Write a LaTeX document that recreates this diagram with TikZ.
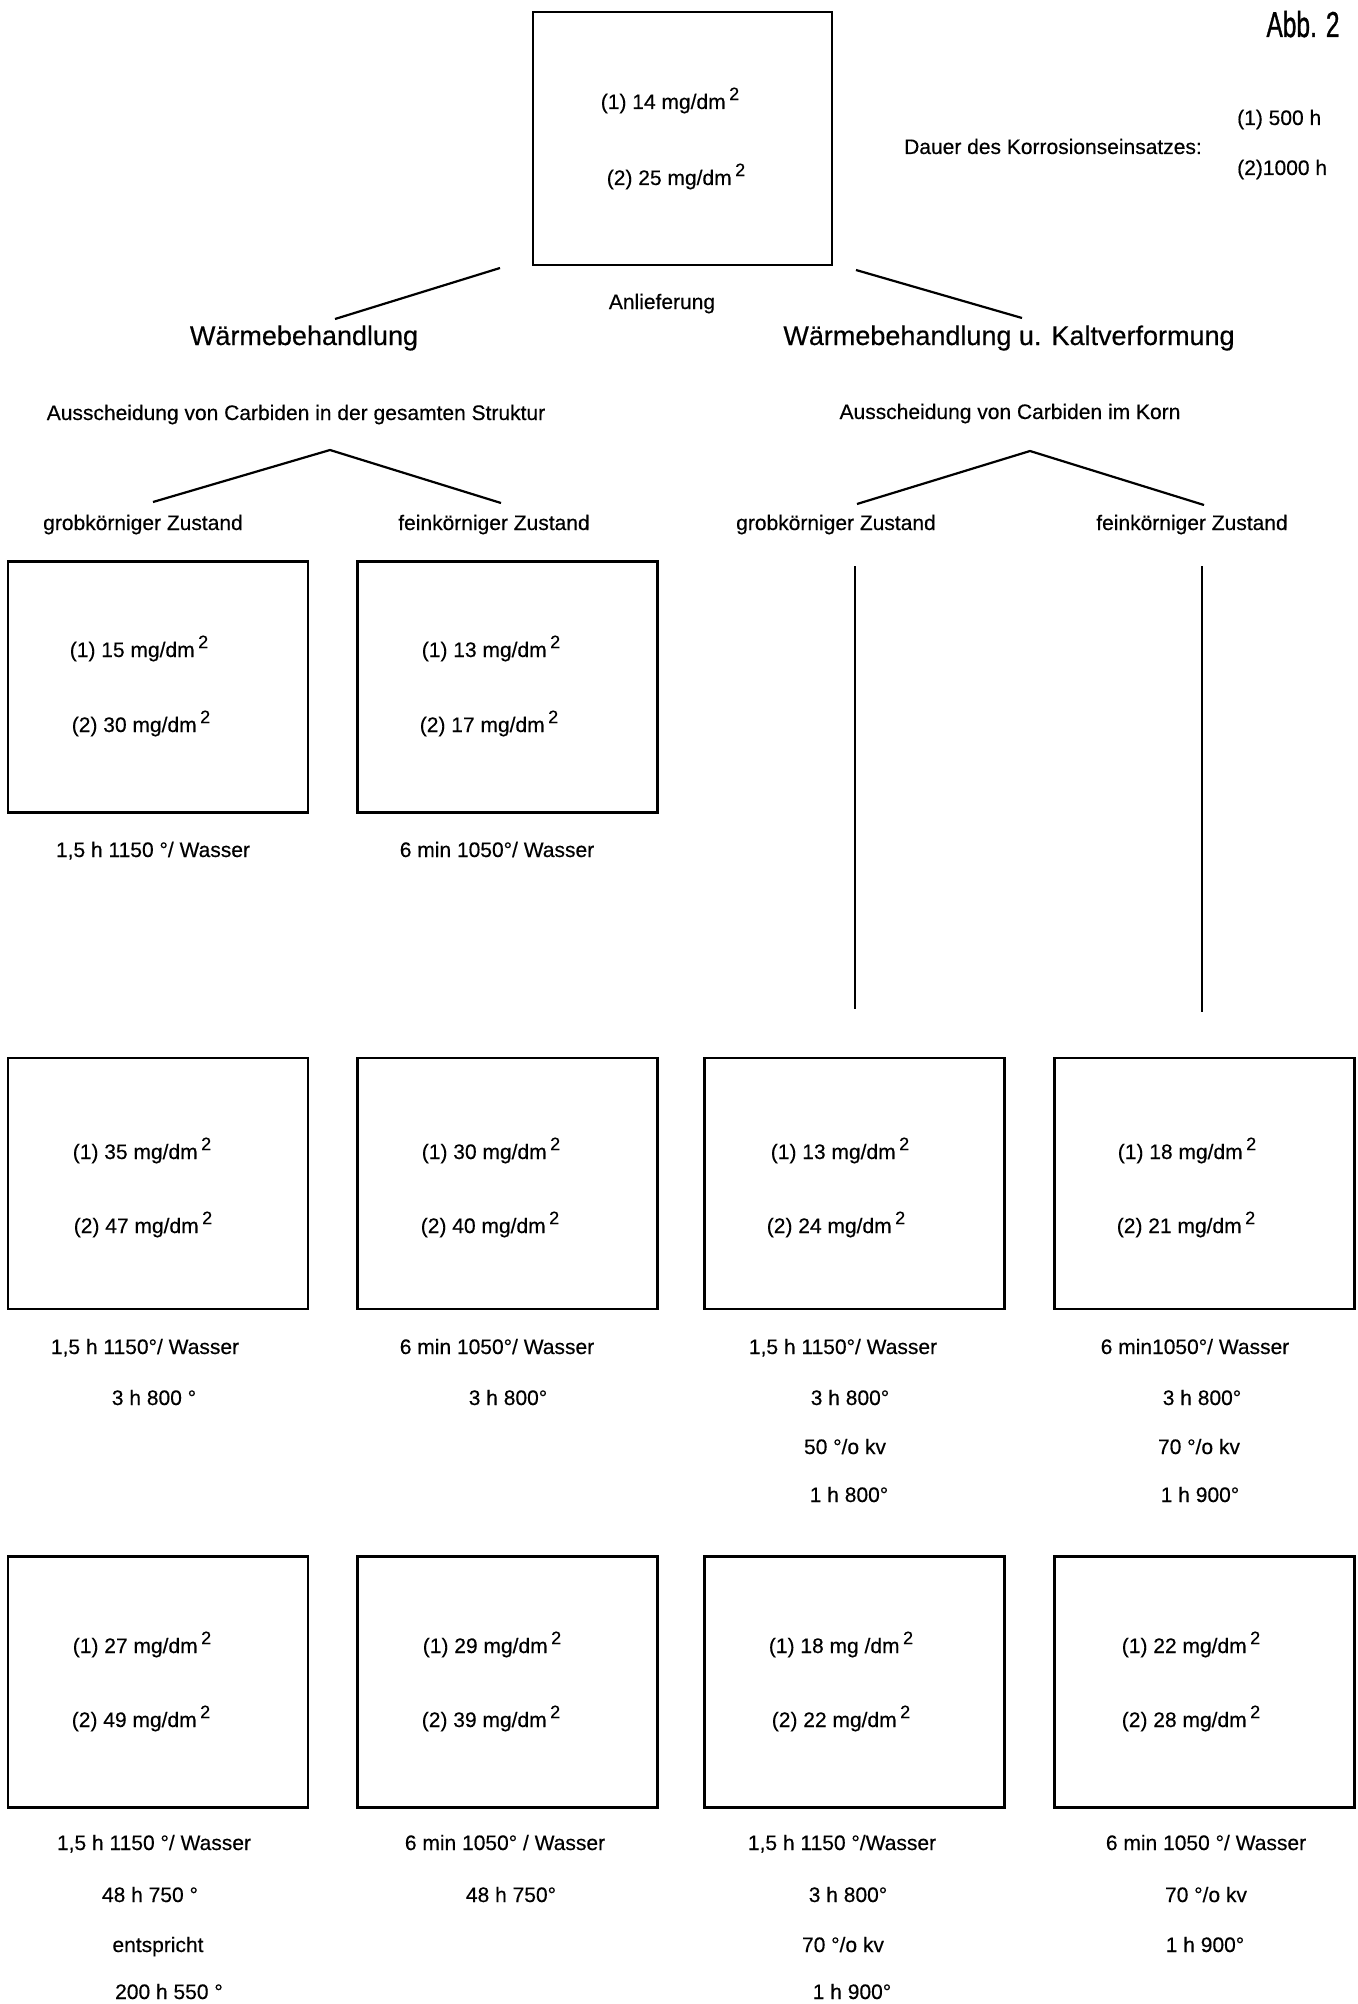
\documentclass[tikz,border=0pt]{standalone}
\usepackage{fontspec}
\setmainfont{Liberation Sans}[FakeBold=0.4]
\newfontfamily\ttlfont{Liberation Sans}[FakeBold=1.2]
\begin{document}
\begin{tikzpicture}[x=1pt,y=-1pt,
  box/.style={draw, line width=2.2pt, minimum width=300pt, minimum height=251pt, inner sep=0pt},
  txt/.style={anchor=base, inner sep=0pt, font=\fontsize{21}{25}\selectfont},
  big/.style={anchor=base, inner sep=0pt, font=\fontsize{27}{32}\selectfont},
  ttl/.style={anchor=base, inner sep=0pt, font=\ttlfont\fontsize{36}{40}\selectfont},
  ln/.style={line width=2.2pt}]
\useasboundingbox (0,0) rectangle (1357,2004);
\newcommand{\sqr}{\,\raisebox{0.8ex}{\fontsize{18}{18}\selectfont 2}}
\newcommand{\mgd}{mg/dm\sqr}
\newcommand{\pct}{°/o}

% title and legend
\node[ttl] (abb) at (1303,37) {\scalebox{0.68}[1]{Abb. 2}};
\node[txt] (dauer) at (1053,154) {Dauer des Korrosionseinsatzes:};
\node[txt, anchor=base west] (d1) at (1237,125) {(1) 500 h};
\node[txt, anchor=base west] (d2) at (1237,175) {(2)1000 h};

% top box
\node[box, minimum width=299pt, minimum height=253pt] (b0) at (682.5,138.5) {};
\node[txt] (b0t1) at (670,109) {(1) 14 \mgd};
\node[txt] (b0t2) at (676,185) {(2) 25 \mgd};
\node[txt] (anl) at (662,309) {Anlieferung};

% headings
\node[big] (wb) at (304,345) {Wärmebehandlung};
\node[big] (wk) at (1009,345) {Wärmebehandlung u. Kaltverformung};
\coordinate (la) at (500,268);
\coordinate (lb) at (335,319);
\coordinate (ra) at (856,270);
\coordinate (rb) at (1022,318);
\draw[ln] (la) -- (lb);
\draw[ln] (ra) -- (rb);

\node[txt] (ausl) at (296,420) {Ausscheidung von Carbiden in der gesamten Struktur};
\node[txt] (ausr) at (1010,419) {Ausscheidung von Carbiden im Korn};

\coordinate (vla) at (330,450);
\coordinate (vll) at (153,502);
\coordinate (vlr) at (501,503);
\coordinate (vra) at (1030,451);
\coordinate (vrl) at (857,504);
\coordinate (vrr) at (1204,505);
\draw[ln] (vll) -- (vla) -- (vlr);
\draw[ln] (vrl) -- (vra) -- (vrr);

\node[txt] (z1) at (143,530) {grobkörniger Zustand};
\node[txt] (z2) at (494,530) {feinkörniger Zustand};
\node[txt] (z3) at (836,530) {grobkörniger Zustand};
\node[txt] (z4) at (1192,530) {feinkörniger Zustand};

% vertical lines
\coordinate (v3a) at (855,566);
\coordinate (v3b) at (855,1009);
\coordinate (v4a) at (1202,566);
\coordinate (v4b) at (1202,1012);
\draw[ln] (v3a) -- (v3b);
\draw[ln] (v4a) -- (v4b);

% row 1
\node[box] (b11) at (158,687) {};
\node[box] (b12) at (507.5,687) {};
\node[txt] (b11t1) at (139,657) {(1) 15 \mgd};
\node[txt] (b11t2) at (141,732) {(2) 30 \mgd};
\node[txt] (b12t1) at (491,657) {(1) 13 \mgd};
\node[txt] (b12t2) at (489,732) {(2) 17 \mgd};
\node[txt] (r1l1) at (153,857) {1,5 h 1150 °/ Wasser};
\node[txt] (r1l2) at (497,857) {6 min 1050°/ Wasser};

% row 2
\node[box] (b21) at (158,1183.5) {};
\node[box] (b22) at (507.5,1183.5) {};
\node[box] (b23) at (854.5,1183.5) {};
\node[box] (b24) at (1204.5,1183.5) {};
\node[txt] (b21t1) at (142,1159) {(1) 35 \mgd};
\node[txt] (b21t2) at (143,1233) {(2) 47 \mgd};
\node[txt] (b22t1) at (491,1159) {(1) 30 \mgd};
\node[txt] (b22t2) at (490,1233) {(2) 40 \mgd};
\node[txt] (b23t1) at (840,1159) {(1) 13 \mgd};
\node[txt] (b23t2) at (836,1233) {(2) 24 \mgd};
\node[txt] (b24t1) at (1187,1159) {(1) 18 \mgd};
\node[txt] (b24t2) at (1186,1233) {(2) 21 \mgd};

\node[txt] (r2a1) at (145,1354) {1,5 h 1150°/ Wasser};
\node[txt] (r2a2) at (154,1405) {3 h 800 °};
\node[txt] (r2b1) at (497,1354) {6 min 1050°/ Wasser};
\node[txt] (r2b2) at (508,1405) {3 h 800°};
\node[txt] (r2c1) at (843,1354) {1,5 h 1150°/ Wasser};
\node[txt] (r2c2) at (850,1405) {3 h 800°};
\node[txt] (r2c3) at (845,1454) {50 \pct\ kv};
\node[txt] (r2c4) at (849,1502) {1 h 800°};
\node[txt] (r2d1) at (1195,1354) {6 min1050°/ Wasser};
\node[txt] (r2d2) at (1202,1405) {3 h 800°};
\node[txt] (r2d3) at (1199,1454) {70 \pct\ kv};
\node[txt] (r2d4) at (1200,1502) {1 h 900°};

% row 3
\node[box] (b31) at (158,1682) {};
\node[box] (b32) at (507.5,1682) {};
\node[box] (b33) at (854.5,1682) {};
\node[box] (b34) at (1204.5,1682) {};
\node[txt] (b31t1) at (142,1653) {(1) 27 \mgd};
\node[txt] (b31t2) at (141,1727) {(2) 49 \mgd};
\node[txt] (b32t1) at (492,1653) {(1) 29 \mgd};
\node[txt] (b32t2) at (491,1727) {(2) 39 \mgd};
\node[txt] (b33t1) at (841,1653) {(1) 18 mg /dm\sqr};
\node[txt] (b33t2) at (841,1727) {(2) 22 \mgd};
\node[txt] (b34t1) at (1191,1653) {(1) 22 \mgd};
\node[txt] (b34t2) at (1191,1727) {(2) 28 \mgd};

\node[txt] (r3a1) at (154,1850) {1,5 h 1150 °/ Wasser};
\node[txt] (r3a2) at (150,1902) {48 h 750 °};
\node[txt] (r3a3) at (158,1952) {entspricht};
\node[txt] (r3a4) at (169,1999) {200 h 550 °};
\node[txt] (r3b1) at (505,1850) {6 min 1050° / Wasser};
\node[txt] (r3b2) at (511,1902) {48 h 750°};
\node[txt] (r3c1) at (842,1850) {1,5 h 1150 °/Wasser};
\node[txt] (r3c2) at (848,1902) {3 h 800°};
\node[txt] (r3c3) at (843,1952) {70 \pct\ kv};
\node[txt] (r3c4) at (852,1999) {1 h 900°};
\node[txt] (r3d1) at (1206,1850) {6 min 1050 °/ Wasser};
\node[txt] (r3d2) at (1206,1902) {70 \pct\ kv};
\node[txt] (r3d3) at (1205,1952) {1 h 900°};
\end{tikzpicture}
\end{document}
